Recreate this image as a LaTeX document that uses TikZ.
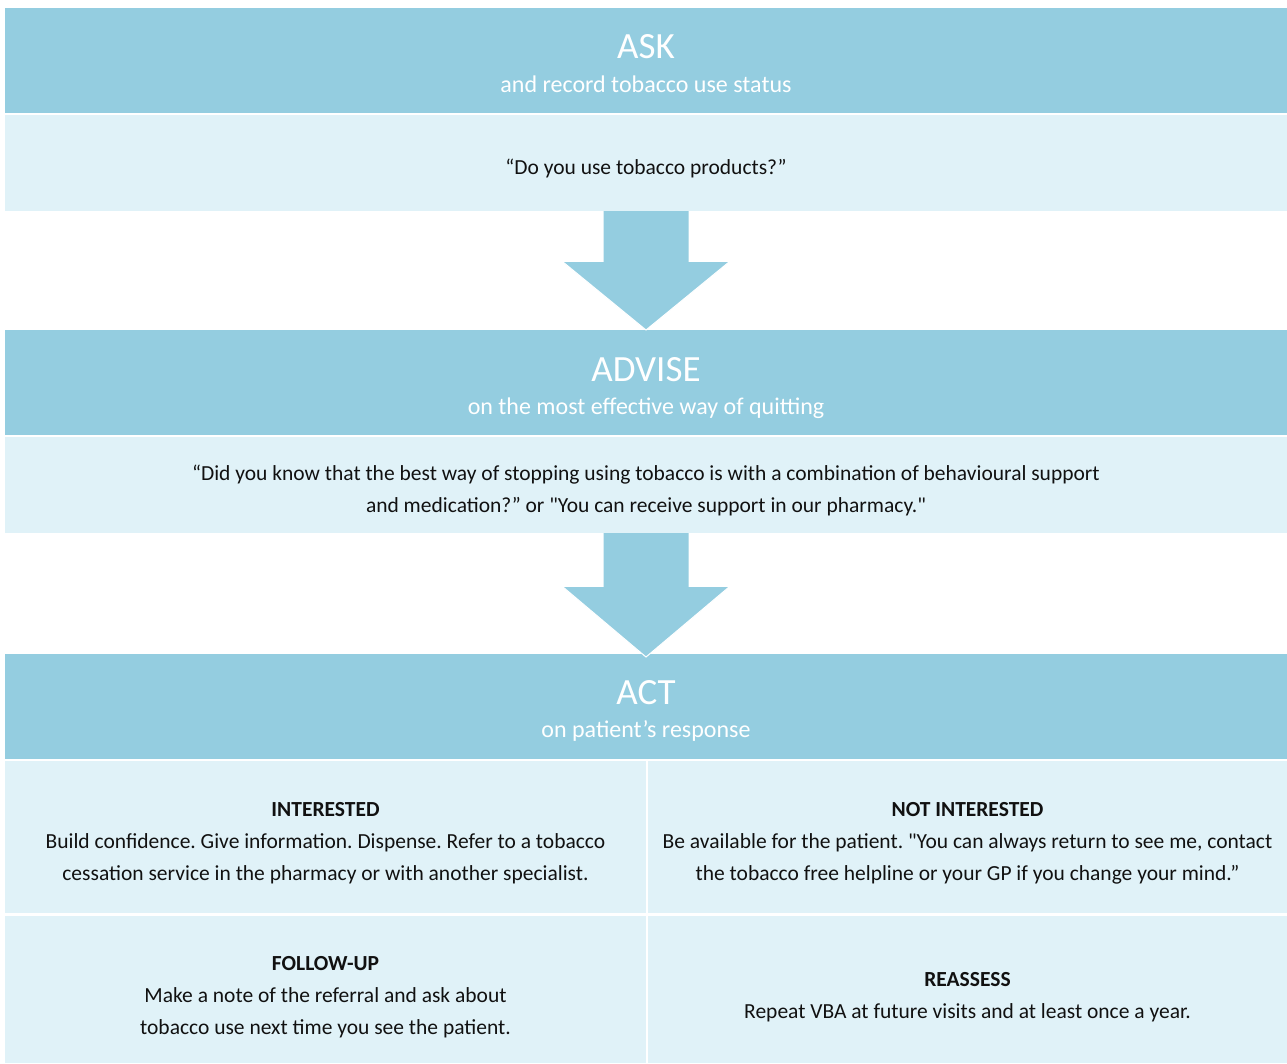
\documentclass[tikz,border=0pt]{standalone}
\usepackage{fontspec}
\setmainfont{Carlito}
\usetikzlibrary{calc}
\definecolor{bandblue}{HTML}{94CDE0}
\definecolor{paleblue}{HTML}{E0F2F8}
\definecolor{bodyink}{HTML}{111111}
\frenchspacing
\begin{document}
\begin{tikzpicture}[x=1pt,y=-1pt,
  band/.style={fill=bandblue,draw=none,inner sep=0pt,outer sep=0pt},
  panel/.style={fill=paleblue,draw=none,inner sep=0pt,outer sep=0pt},
  headline/.style={text=white,font=\fontsize{37}{40}\selectfont,anchor=base,inner sep=0pt},
  subline/.style={text=white,font=\fontsize{24}{28}\selectfont,anchor=base,inner sep=0pt},
  bodytext/.style={text=bodyink,font=\fontsize{21.5}{32}\selectfont,align=center,inner sep=0pt},
  flowarrow/.style={fill=bandblue,draw=none}
]
\useasboundingbox (0,0) rectangle (1287,1063);
\fill[white] (0,0) rectangle (1287,1063);

% ASK
\node[band, minimum width=1282, minimum height=105] (askhead) at (646,60.5) {};
\node[panel, minimum width=1282, minimum height=96] (askbody) at (646,163) {};
\node[headline] (asktitle) at (646,58) {ASK};
\node[subline] (asksub) at (646,92) {and record tobacco use status};
\node[bodytext] (asktext) at (646,168) {“Do you use tobacco products?”};

% ADVISE
\node[band, minimum width=1282, minimum height=105] (advhead) at (646,382.5) {};
\node[panel, minimum width=1282, minimum height=96] (advbody) at (646,485) {};
\node[headline] (advtitle) at (646,381) {ADVISE};
\node[subline] (advsub) at (646,414) {on the most effective way of quitting};
\node[bodytext] (advtext) at (646,490) {“Did you know that the best way of stopping using tobacco is with a combination of behavioural support\\and medication?” or \textquotedbl You can receive support in our pharmacy.\textquotedbl};

% ACT
\node[band, minimum width=1282, minimum height=105] (acthead) at (646,706.5) {};
\node[headline] (acttitle) at (646,704) {ACT};
\node[subline] (actsub) at (646,737) {on patient’s response};

\node[panel, minimum width=641, minimum height=152] (interested) at (325.5,837) {};
\node[panel, minimum width=639, minimum height=152] (notinterested) at (967.5,837) {};
\node[panel, minimum width=641, minimum height=147] (followup) at (325.5,989.5) {};
\node[panel, minimum width=639, minimum height=147] (reassess) at (967.5,989.5) {};

\node[bodytext] at ($(interested.center)+(0,6)$) {\textbf{INTERESTED}\\Build confidence. Give information. Dispense. Refer to a tobacco\\cessation service in the pharmacy or with another specialist.};
\node[bodytext] at ($(notinterested.center)+(0,6)$) {\textbf{NOT INTERESTED}\\Be available for the patient. \textquotedbl You can always return to see me, contact\\the tobacco free helpline or your GP if you change your mind.”};
\node[bodytext] at ($(followup.center)+(0,8)$) {\textbf{FOLLOW-UP}\\Make a note of the referral and ask about\\tobacco use next time you see the patient.};
\node[bodytext] at ($(reassess.center)+(0,8)$) {\textbf{REASSESS}\\Repeat VBA at future visits and at least once a year.};

% block arrows between the stages
\foreach \from/\to/\shaft/\tip in {askbody/advhead/51/119, advbody/acthead/54/124}{
  \coordinate (s) at (\from.south);
  \fill[flowarrow] ($(s)+(-42.5,0)$) -- ($(s)+(42.5,0)$) -- ($(s)+(42.5,\shaft)$) -- ($(s)+(83,\shaft)$)
     -- ($(s)+(0,\tip)$) -- ($(s)+(-83,\shaft)$) -- ($(s)+(-42.5,\shaft)$) -- cycle;
  \draw[white,line width=1pt] ($(s)+(83,\shaft)$) -- ($(s)+(0,\tip)$) -- ($(s)+(-83,\shaft)$);
}
\end{tikzpicture}
\end{document}
